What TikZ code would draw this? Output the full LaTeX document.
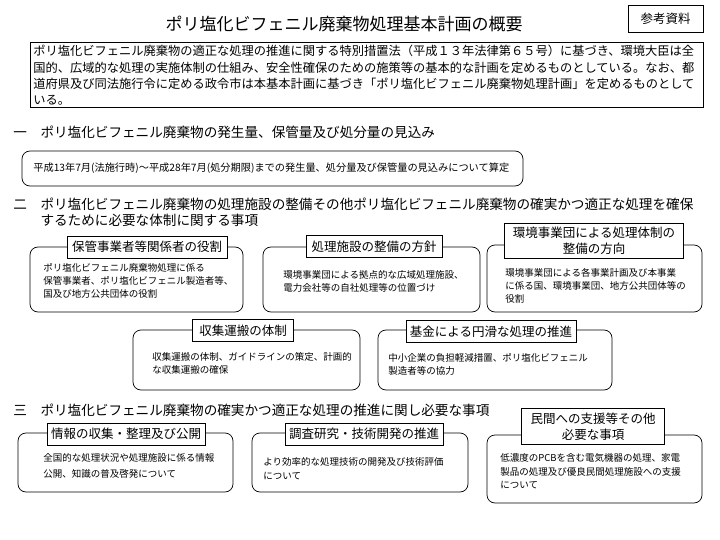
\documentclass[tikz,border=0pt]{standalone}
\usepackage{fontspec}
\setmainfont{Noto Sans CJK JP}
\begin{document}
\begin{tikzpicture}[x=1pt, y=-1pt, line width=0.7pt]
	\tikzstyle{frame}=[draw, rounded corners=8pt, inner sep=0pt]
	\tikzstyle{tag}=[draw, fill=white, inner xsep=4pt, inner ysep=4pt, minimum height=22pt, align=center, font=\fontsize{12.5}{16}\selectfont]
	\tikzstyle{body}=[anchor=west, inner sep=0pt, align=left, font=\fontsize{9.5}{13}\selectfont]
	\tikzstyle{heading}=[anchor=west, inner sep=0pt, align=left, font=\fontsize{13.6}{16}\selectfont]

	\useasboundingbox (0,0) rectangle (720,540);

	\node[font=\fontsize{17}{20}\selectfont] (title) at (344,24) {ポリ塩化ビフェニル廃棄物処理基本計画の概要};
	\node[draw, minimum width=75pt, minimum height=27pt, font=\fontsize{12.5}{15}\selectfont] (ref) at (665.5,18.5) {参考資料};

	\node[draw, minimum width=673pt, minimum height=65pt] (intro) at (366.5,74.5) {};
	\node[body, font=\fontsize{12.25}{16.3}\selectfont] (introtext) at (33,75.5) {ポリ塩化ビフェニル廃棄物の適正な処理の推進に関する特別措置法（平成１３年法律第６５号）に基づき、環境大臣は全\\
		国的、広域的な処理の実施体制の仕組み、安全性確保のための施策等の基本的な計画を定めるものとしている。なお、都\\
		道府県及び同法施行令に定める政令市は本基本計画に基づき「ポリ塩化ビフェニル廃棄物処理計画」を定めるものとして\\
		いる。};

	% 一
	\node[heading] (sec1) at (13,132) {一　ポリ塩化ビフェニル廃棄物の発生量、保管量及び処分量の見込み};
	\node[frame, minimum width=501pt, minimum height=35pt] (amount) at (272.5,168.5) {};
	\node[body, font=\fontsize{10.2}{13}\selectfont] (amounttext) at (33,168) {平成13年7月(法施行時)～平成28年7月(処分期限)までの発生量、処分量及び保管量の見込みについて算定};

	% 二
	\node[heading] (sec2) at (13,212) {二　ポリ塩化ビフェニル廃棄物の処理施設の整備その他ポリ塩化ビフェニル廃棄物の確実かつ適正な処理を確保\\
		\hspace*{2em}するために必要な体制に関する事項};

	\node[frame, minimum width=213pt, minimum height=65pt] (roles) at (136.5,279.5) {};
	\node[tag, minimum width=160pt] (rolestag) at (147,247) {保管事業者等関係者の役割};
	\node[body] (rolestext) at (43,280.5) {ポリ塩化ビフェニル廃棄物処理に係る\\保管事業者、ポリ塩化ビフェニル製造者等、\\国及び地方公共団体の役割};

	\node[frame, minimum width=217pt, minimum height=65pt] (facility) at (371.5,279.5) {};
	\node[tag, minimum width=136pt] (facilitytag) at (374,246.5) {処理施設の整備の方針};
	\node[body] (facilitytext) at (283,281) {環境事業団による拠点的な広域処理施設、\\電力会社等の自社処理等の位置づけ};

	\node[frame, minimum width=215pt, minimum height=67pt] (agency) at (594.5,278.5) {};
	\node[tag, minimum width=179pt] (agencytag) at (594,241) {環境事業団による処理体制の\\整備の方向};
	\node[body] (agencytext) at (505,285.5) {環境事業団による各事業計画及び本事業\\に係る国、環境事業団、地方公共団体等の\\役割};

	\node[frame, minimum width=227pt, minimum height=60pt] (transport) at (246.5,360) {};
	\node[tag, minimum width=101pt] (transporttag) at (243,330.5) {収集運搬の体制};
	\node[body] (transporttext) at (152,363.5) {収集運搬の体制、ガイドラインの策定、計画的\\な収集運搬の確保};

	\node[frame, minimum width=234pt, minimum height=60pt] (fund) at (495,360) {};
	\node[tag, minimum width=162pt] (fundtag) at (491,331.5) {基金による円滑な処理の推進};
	\node[body] (fundtext) at (388,364) {中小企業の負担軽減措置、ポリ塩化ビフェニル\\製造者等の協力};

	% 三
	\node[heading] (sec3) at (13,410) {三　ポリ塩化ビフェニル廃棄物の確実かつ適正な処理の推進に関し必要な事項};

	\node[frame, minimum width=215pt, minimum height=59pt] (info) at (125.5,462.5) {};
	\node[tag, minimum width=148pt] (infotag) at (126,434) {情報の収集・整理及び公開};
	\node[body, font=\fontsize{9.5}{16}\selectfont] (infotext) at (43,466) {全国的な処理状況や処理施設に係る情報\\公開、知識の普及啓発について};

	\node[frame, minimum width=216pt, minimum height=59pt] (research) at (360,462.5) {};
	\node[tag, minimum width=152pt] (researchtag) at (364,434) {調査研究・技術開発の推進};
	\node[body, font=\fontsize{9.5}{14}\selectfont] (researchtext) at (263,469) {より効率的な処理技術の開発及び技術評価\\について};

	\node[frame, minimum width=215pt, minimum height=68pt] (support) at (594.5,469) {};
	\node[tag, minimum width=143pt] (supporttag) at (593,426.5) {民間への支援等その他\\必要な事項};
	\node[body, font=\fontsize{9.5}{13.5}\selectfont] (supporttext) at (500,471.5) {低濃度のPCBを含む電気機器の処理、家電\\製品の処理及び優良民間処理施設への支援\\について};
\end{tikzpicture}
\end{document}
